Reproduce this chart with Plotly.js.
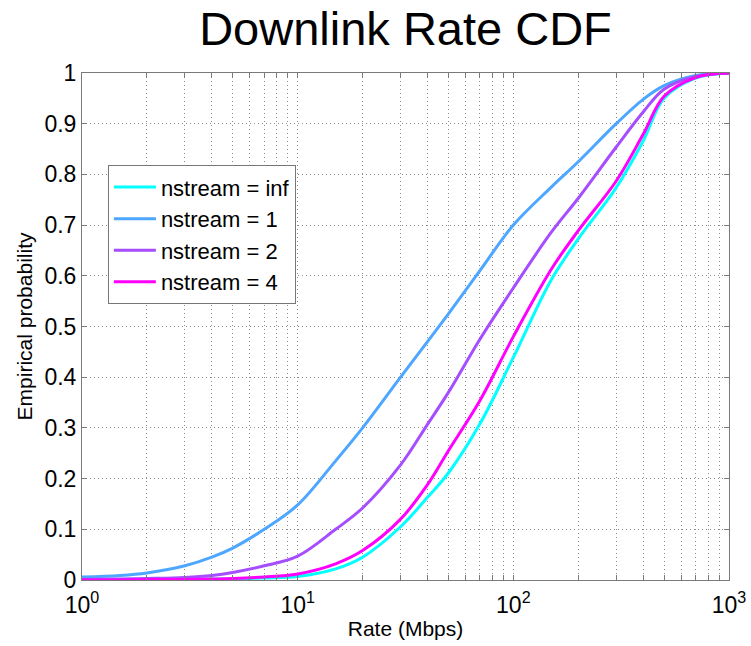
<!DOCTYPE html>
<html>
<head>
<meta charset="utf-8">
<script src="https://cdn.plot.ly/plotly-3.0.1.min.js"></script>
<style>html,body{margin:0;padding:0;background:#fff;}#chart{width:751px;height:646px;}</style>
</head>
<body>
<div id="chart"></div>
<script>
// Series names
const seriesNames = ["nstream = inf", "nstream = 1", "nstream = 2", "nstream = 4"];

// Rate values (Mbps) at which the curves were read
const rateX = [1, 1.5, 2, 3, 4, 5, 7, 10, 15, 20, 30, 40, 50, 70, 100, 150, 200, 300, 400, 500, 700, 1000];

// nstream = inf
const infY = [0, 0, 0.001, 0.001, 0.002, 0.002, 0.004, 0.007, 0.022, 0.045, 0.105, 0.163, 0.211, 0.308, 0.439, 0.592, 0.673, 0.774, 0.866, 0.95, 0.99, 1];
// nstream = 1
const s1Y = [0.006, 0.009, 0.014, 0.028, 0.045, 0.063, 0.1, 0.148, 0.235, 0.3, 0.4, 0.47, 0.525, 0.61, 0.7, 0.775, 0.825, 0.9, 0.948, 0.975, 0.995, 1];
// nstream = 2
const s2Y = [0.001, 0.002, 0.003, 0.005, 0.009, 0.015, 0.028, 0.047, 0.1, 0.142, 0.227, 0.307, 0.37, 0.475, 0.576, 0.686, 0.753, 0.854, 0.923, 0.968, 0.993, 1];
// nstream = 4
const s4Y = [0, 0, 0.001, 0.001, 0.002, 0.003, 0.006, 0.012, 0.032, 0.058, 0.12, 0.188, 0.255, 0.354, 0.48, 0.613, 0.689, 0.787, 0.879, 0.954, 0.991, 1];

// Tick labels
const yTickVals = [0, 0.1, 0.2, 0.3, 0.4, 0.5, 0.6, 0.7, 0.8, 0.9, 1];
const yTickText = ["0", "0.1", "0.2", "0.3", "0.4", "0.5", "0.6", "0.7", "0.8", "0.9", "1"];
const xDecades = [1, 10, 100, 1000];
const xDecadeText = ["10<sup>0</sup>", "10<sup>1</sup>", "10<sup>2</sup>", "10<sup>3</sup>"];

// full log tick set (labels only at decades)
const xTickVals = [], xTickText = [];
for (let d = 0; d < 3; d++) {
  for (let m = 1; m <= 9; m++) {
    const v = m * Math.pow(10, d);
    xTickVals.push(v);
    const idx = xDecades.indexOf(v);
    xTickText.push(idx >= 0 ? xDecadeText[idx] : "");
  }
}
xTickVals.push(1000); xTickText.push(xDecadeText[3]);

const colors = ["#00FFFF", "#4DA6FF", "#A64DFF", "#FF00FF"];
const ys = [infY, s1Y, s2Y, s4Y];

const traces = seriesNames.map((n, i) => ({
  x: rateX, y: ys[i], name: n, type: "scatter", mode: "lines",
  line: {color: colors[i], width: 3, shape: "spline", smoothing: 1}
}));

const font = "Liberation Sans, Arial, sans-serif";
const grid = {showgrid: true, gridcolor: "#8a8a8a", griddash: "1px,3px", gridwidth: 1,
  showline: true, linecolor: "#7a7a7a", linewidth: 1, mirror: "ticks",
  ticks: "inside", ticklen: 5, tickcolor: "#7a7a7a", zeroline: false};

const layout = {
  width: 751, height: 646,
  margin: {l: 82, r: 22, t: 73, b: 66},
  paper_bgcolor: "#fff", plot_bgcolor: "#fff",
  font: {family: font, color: "#000", size: 23},
  title: {text: "Downlink Rate CDF", font: {family: font, size: 47, color: "#000"},
          x: 0.5, xref: "paper", xanchor: "center", y: 1 - 29/646, yref: "container", yanchor: "middle"},
  showlegend: true,
  legend: {x: 0.040, y: 0.818, xanchor: "left", yanchor: "top",
           bgcolor: "#fff", bordercolor: "#777", borderwidth: 1, itemwidth: 42,
           font: {family: font, size: 22, color: "#000"}, tracegroupgap: 0},
  xaxis: Object.assign({
    type: "log", range: [0, 3],
    tickmode: "array", tickvals: xTickVals, ticktext: xTickText,
    ticklabelstandoff: 4,
    tickfont: {family: font, size: 23, color: "#000"},
    title: {text: "Rate (Mbps)", font: {family: font, size: 21, color: "#000"}, standoff: 4}
  }, grid),
  yaxis: Object.assign({
    range: [0, 1],
    tickmode: "array", tickvals: yTickVals, ticktext: yTickText,
    tickfont: {family: font, size: 23, color: "#000"},
    title: {text: "Empirical probability", font: {family: font, size: 21, color: "#000"}, standoff: 6}
  }, grid)
};

Plotly.newPlot("chart", traces, layout, {displayModeBar: false, staticPlot: true});
</script>
</body>
</html>
